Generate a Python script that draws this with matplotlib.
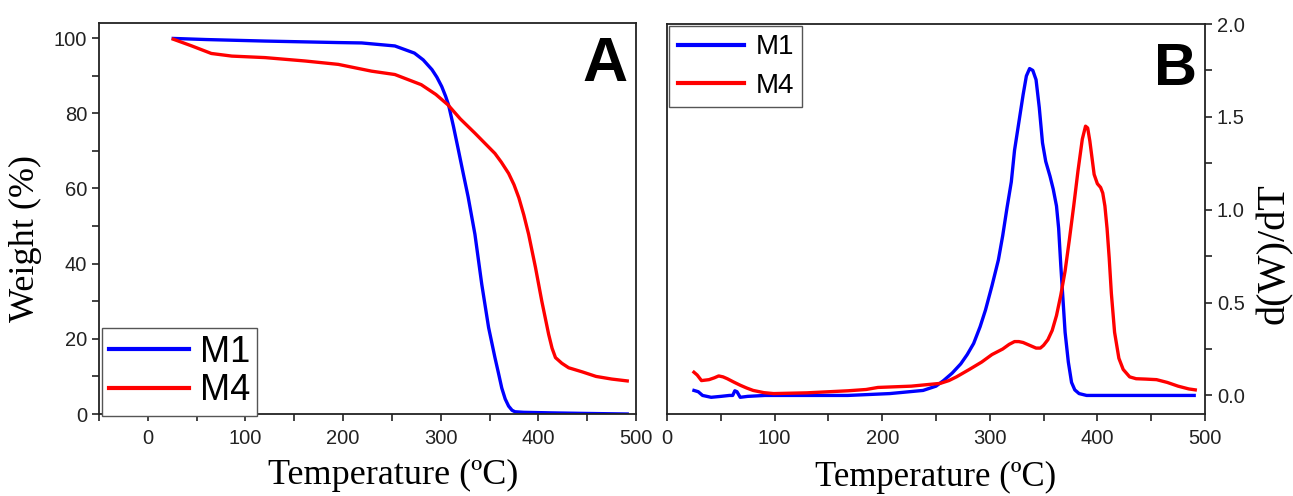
import numpy as np
import matplotlib.pyplot as plt
from matplotlib.ticker import MultipleLocator

# ---- Panel A: TGA weight curves ----
a_m1_temp = [26, 60, 120, 195, 219, 253, 273, 282, 291, 296, 301, 305, 308, 313,
             318, 323, 328, 335, 342, 349, 355.5, 359, 362.5, 366, 369.5, 373, 376,
             385, 414, 450, 491]
a_m1_weight = [99.9, 99.6, 99.2, 98.8, 98.7, 97.9, 96.0, 94.2, 91.6, 89.6, 87.1, 84.5,
               82.2, 76.5, 70.3, 64.0, 57.8, 47.8, 34.5, 23.0, 15.0, 11.0, 6.9, 4.0,
               2.1, 1.0, 0.6, 0.45, 0.3, 0.15, 0.0]

a_m4_temp = [26, 45, 65, 86, 120, 161, 195, 229, 253, 280, 295, 307.5, 320, 335,
             355.5, 362, 369.5, 375, 380, 385, 390, 397, 403.5, 410.5, 414, 417.5,
             424, 431, 445, 459, 475, 491]
a_m4_weight = [99.7, 97.9, 95.9, 95.2, 94.8, 93.9, 93.0, 91.2, 90.3, 87.6, 85.0, 82.2,
               78.5, 74.7, 69.3, 67.0, 64.0, 61.0, 57.5, 53.0, 47.8, 39.0, 30.0, 21.2,
               17.5, 15.0, 13.5, 12.3, 11.2, 10.0, 9.3, 8.8]

# ---- Panel B: DTG curves ----
b_m1_temp = [25, 29, 33, 41, 50, 58, 61, 63, 65, 68, 75, 91, 130, 168, 207, 238,
             250, 257, 265, 273, 279, 285, 291, 296, 302, 308, 312, 316, 320, 323,
             327, 331, 334, 337, 340, 343, 346, 349, 352, 356, 359, 362, 364, 366,
             368, 370, 373, 376, 379, 383, 390, 401, 450, 490]
b_m1_dtg = [0.027, 0.02, 0.0, -0.01, -0.005, 0.0, 0.0, 0.025, 0.02, -0.01, -0.005, 0.0,
            0.0, 0.0, 0.01, 0.027, 0.05, 0.08, 0.12, 0.17, 0.22, 0.28, 0.37, 0.46,
            0.59, 0.73, 0.86, 1.01, 1.15, 1.32, 1.47, 1.62, 1.72, 1.76, 1.75, 1.70,
            1.55, 1.36, 1.26, 1.18, 1.11, 1.02, 0.90, 0.70, 0.52, 0.34, 0.18, 0.07,
            0.03, 0.01, 0.0, 0.0, 0.0, 0.0]

b_m4_temp = [25, 28, 32, 39, 44, 48, 52, 56, 62, 68, 74, 80, 90, 99, 130, 168,
             185, 196, 227, 254, 262, 269, 281, 292.5, 302, 312, 318, 323, 327, 331,
             337, 343, 347, 350, 354, 358, 362, 366, 370, 374, 378, 382, 386, 389,
             391, 393, 395, 397, 400, 403, 405, 407, 409, 411, 413, 416, 420, 424,
             430, 436, 445, 455, 465, 475, 485, 491]
b_m4_dtg = [0.125, 0.11, 0.08, 0.085, 0.095, 0.105, 0.1, 0.09, 0.072, 0.055, 0.04,
            0.027, 0.015, 0.01, 0.014, 0.025, 0.032, 0.043, 0.05, 0.065, 0.08, 0.1,
            0.14, 0.18, 0.22, 0.25, 0.275, 0.29, 0.29, 0.285, 0.27, 0.255, 0.255,
            0.27, 0.3, 0.35, 0.43, 0.54, 0.67, 0.84, 1.02, 1.21, 1.38, 1.45, 1.44,
            1.37, 1.28, 1.19, 1.14, 1.12, 1.09, 1.02, 0.90, 0.74, 0.55, 0.34, 0.2,
            0.14, 0.1, 0.09, 0.088, 0.085, 0.07, 0.05, 0.035, 0.03]

labels = ["M1", "M4"]
colors = ["#0000FF", "#FF0000"]

serif = ["Liberation Serif", "DejaVu Serif"]
sans = ["Liberation Sans", "DejaVu Sans"]
plt.rcParams["font.family"] = sans

fig = plt.figure(figsize=(12.93, 4.96), dpi=100)
ax_a = fig.add_axes([0.0766, 0.1653, 0.4153, 0.7883])
ax_b = fig.add_axes([0.5159, 0.1653, 0.4160, 0.7863])

lw = 2.4
ax_a.plot(a_m1_temp, a_m1_weight, color=colors[0], lw=lw, label=labels[0])
ax_a.plot(a_m4_temp, a_m4_weight, color=colors[1], lw=lw, label=labels[1])
ax_b.plot(b_m1_temp, b_m1_dtg, color=colors[0], lw=lw, label=labels[0])
ax_b.plot(b_m4_temp, b_m4_dtg, color=colors[1], lw=lw, label=labels[1])

for ax in (ax_a, ax_b):
    for sp in ax.spines.values():
        sp.set_linewidth(1.3)
        sp.set_color("#222222")
    ax.xaxis.set_major_locator(MultipleLocator(100))
    ax.xaxis.set_minor_locator(MultipleLocator(50))
    ax.tick_params(which="both", direction="out", length=5, width=1.2,
                   labelsize=14.5, colors="#222222", labelcolor="#222222")

# panel A
ax_a.set_xlim(-50, 500)
ax_a.set_ylim(0, 104)
ax_a.yaxis.set_major_locator(MultipleLocator(20))
ax_a.yaxis.set_minor_locator(MultipleLocator(10))
ax_a.tick_params(axis="x", pad=6)
ax_a.set_xlabel("Temperature (ºC)", family=serif, fontsize=26)
ax_a.xaxis.set_label_coords(0.547, -0.115)
ax_a.set_ylabel("Weight (%)", family=serif, fontsize=26)
ax_a.yaxis.set_label_coords(-0.106, 0.45)
ax_a.text(0.985, 0.97, "A", transform=ax_a.transAxes, ha="right", va="top",
          fontsize=45, fontweight="bold", family=sans)
leg_a = ax_a.legend(loc="lower left", bbox_to_anchor=(0.006, -0.004),
                    fontsize=26, handlelength=2.2, handletextpad=0.3,
                    borderpad=0.2, labelspacing=0.1, borderaxespad=0,
                    fancybox=False, framealpha=1, edgecolor="#555555")
leg_a.get_frame().set_linewidth(1.0)
for line in leg_a.get_lines():
    line.set_linewidth(3)

# panel B
ax_b.set_xlim(0, 500)
ax_b.set_ylim(-0.1, 2.0)
ax_b.yaxis.tick_right()
ax_b.yaxis.set_label_position("right")
ax_b.yaxis.set_major_locator(MultipleLocator(0.5))
ax_b.yaxis.set_minor_locator(MultipleLocator(0.25))
ax_b.yaxis.set_major_formatter(plt.FormatStrFormatter("%.1f"))
ax_b.tick_params(axis="x", pad=6)
ax_b.set_xlabel("Temperature (ºC)", family=serif, fontsize=25, labelpad=9)
ax_b.set_ylabel("d(W)/dT", family=serif, fontsize=29, rotation=90)
ax_b.yaxis.set_label_coords(1.095, 0.41)
ax_b.text(0.985, 0.955, "B", transform=ax_b.transAxes, ha="right", va="top",
          fontsize=43, fontweight="bold", family=sans)
leg_b = ax_b.legend(loc="upper left", bbox_to_anchor=(0.004, 0.995),
                    fontsize=20, handlelength=2.4, handletextpad=0.4,
                    borderpad=0.3, labelspacing=0.45, borderaxespad=0,
                    fancybox=False, framealpha=1, edgecolor="#555555")
leg_b.get_frame().set_linewidth(1.0)
for line in leg_b.get_lines():
    line.set_linewidth(3)

fig.savefig("out.png", dpi=100)
